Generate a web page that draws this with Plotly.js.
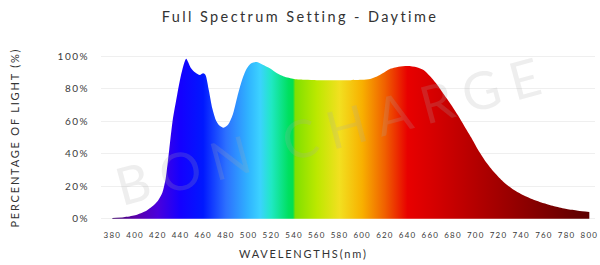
<!DOCTYPE html>
<html>
<head>
<meta charset="utf-8">
<script src="https://cdn.plot.ly/plotly-3.0.1.min.js"></script>
<style>
html,body{margin:0;padding:0;background:#fff;}
#chart{width:600px;height:265px;}
.xtick text{letter-spacing:1.2px;}
.ytick text{letter-spacing:1.5px;}
.gtitle{letter-spacing:2.4px;}
.annotation-text{letter-spacing:1.8px;}
.annotation[data-index="0"] .annotation-text{letter-spacing:11px !important;}
</style>
</head>
<body>
<div id="chart"></div>
<script>
// Data
const wavelengths = [380,390,400,410,415,420,424,427,430,433,437,441,445,449,453,457,460,462,465,468,471,474,478,482,486,490,494,498,502,507,512,519,525,531,540,550,560,570,580,590,600,607,613,618,624,632,640,648,654,660,666,672,678,684,690,696,702,710,717,724,732,742,750,760,770,780,790,800];
const percentages = [0.5,1,2.2,5,7.5,11,16,25,42,60,76,90,98.5,93,90,88.5,89.5,88.5,79,68,61,57.5,56,58,64,75,85,92,95.5,96.5,95,92.5,89.5,87.5,86,85.5,85.3,85.2,85.2,85.3,85.5,86,87.5,89.5,92,93.5,94,93.3,91.5,87.5,82.5,76.5,70.5,64,57,50,42.5,34,28,23,18.5,14.5,12,9.5,7.5,6,5,4.2];
const colorStopsNm = [380,400,420,440,460,480,500,510,520,535,539,541,560,580,600,620,640,660,700,740,800];
const colorStopsColor = ['#3c0068','#5a00a8','#4a00dc','#1400ff','#0018ff','#2c70ff','#30b4ff','#3cd2ff','#20e8c4','#00e060','#00e050','#80e000','#bce800','#f2e020','#f8b000','#f06000','#e80000','#d80000','#b40000','#900000','#5c0000'];
const xTickStart = 380, xTickEnd = 800, xTickStep = 20;
const yTickStep = 20;

const nmMin = colorStopsNm[0], nmMax = colorStopsNm[colorStopsNm.length-1];
const colorscale = colorStopsNm.map((v,i)=>[(v-nmMin)/(nmMax-nmMin), colorStopsColor[i]]);

const trace = {
  x: wavelengths,
  y: percentages,
  type: 'scatter',
  mode: 'lines',
  line: {width: 0, shape: 'spline', smoothing: 0.7, color: 'rgba(0,0,0,0)'},
  fill: 'tozeroy',
  fillgradient: {type: 'horizontal', colorscale: colorscale, start: nmMin, stop: nmMax},
  hoverinfo: 'skip'
};

const fontFam = 'Lato, "Open Sans", sans-serif';

const layout = {
  width: 600, height: 265,
  margin: {l: 101, r: 5, t: 53, b: 43},
  paper_bgcolor: '#fff', plot_bgcolor: '#fff',
  showlegend: false,
  title: {text: 'Full Spectrum Setting - Daytime', font: {family: fontFam, size: 14.5, color: '#333'}, xref: 'container', x: 0.5, xanchor: 'center', y: 0.935, yanchor: 'middle'},
  xaxis: {
    range: [370, 805], tick0: xTickStart, dtick: xTickStep, showgrid: false, zeroline: false, showline: false,
    ticks: '', ticklabelstandoff: 7, tickfont: {family: fontFam, size: 8, color: '#3a3a3a'}, fixedrange: true
  },
  yaxis: {
    range: [-2, 102], dtick: yTickStep, ticksuffix: '%', showgrid: true, gridcolor: '#efefef', gridwidth: 1,
    zeroline: false, showline: false, ticks: '', ticklabelstandoff: 11,
    tickfont: {family: fontFam, size: 10, color: '#3a3a3a'}, fixedrange: true
  },
  annotations: [
    {text: 'BON CHARGE', xref: 'paper', yref: 'paper', x: 0.47, y: 0.55, xanchor: 'center', yanchor: 'middle',
     showarrow: false, textangle: -15, font: {family: fontFam, size: 52, color: 'rgba(170,170,170,0.2)'}},
    {text: 'WAVELENGTHS(nm)', xref: 'paper', yref: 'paper', x: 0.41, y: -0.185, xanchor: 'center', yanchor: 'middle',
     showarrow: false, font: {family: fontFam, size: 11, color: '#333'}},
    {text: 'PERCENTAGE OF LIGHT (%)', xref: 'paper', yref: 'paper', x: -0.176, y: 0.5, xanchor: 'center', yanchor: 'middle',
     showarrow: false, textangle: -90, font: {family: fontFam, size: 11, color: '#333'}}
  ]
};

Plotly.newPlot('chart', [trace], layout, {displayModeBar: false, staticPlot: true});
</script>
</body>
</html>
